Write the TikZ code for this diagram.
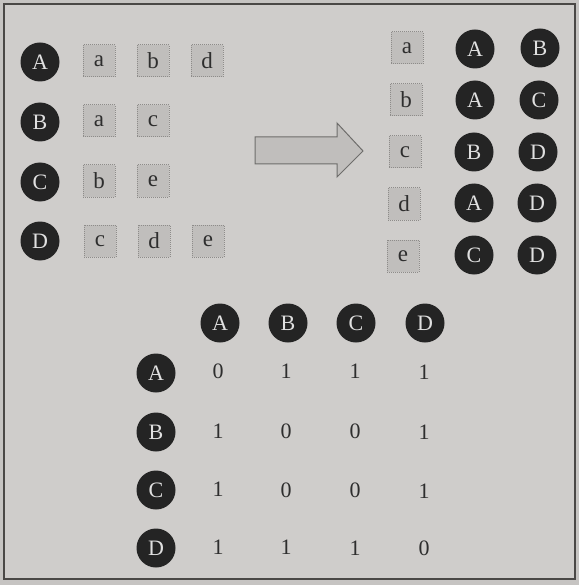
\documentclass[tikz,border=0pt]{standalone}
\usepackage{fontspec}
\setmainfont{Liberation Serif}
\definecolor{bgout}{HTML}{C6C4C2}
\definecolor{bgin}{HTML}{CFCDCB}
\definecolor{boxfill}{HTML}{C0BEBC}
\definecolor{boxline}{HTML}{8E8C8A}
\definecolor{dark}{HTML}{242424}
\definecolor{frameline}{HTML}{4A4846}
\definecolor{txt}{HTML}{2E2E2E}
\tikzset{
  vert/.style={circle, fill=dark, minimum size=39pt, inner sep=0pt, text=white!88!black, font=\fontsize{22}{22}\selectfont},
  itembox/.style={rectangle, draw=boxline, densely dotted, line width=1pt, fill=boxfill, minimum size=32pt, inner sep=0pt, text=txt, font=\fontsize{23}{23}\selectfont},
  num/.style={inner sep=0pt, text=txt, font=\fontsize{22}{22}\selectfont},
}
\begin{document}
\begin{tikzpicture}[x=1pt,y=-1pt]
\useasboundingbox (0,0) rectangle (579,585);
\fill[bgout] (0,0) rectangle (579,585);
\draw[frameline, line width=1.3pt, fill=bgin] (4,4) rectangle (575,579);
% left lists
\node[vert] (LA) at (40,62) {A};
\node[vert] (LB) at (40,122) {B};
\node[vert] (LC) at (40,182) {C};
\node[vert] (LD) at (40,241) {D};
\node[itembox] (LAa) at (99,61) {a};
\node[itembox] (LAb) at (153,61) {b};
\node[itembox] (LAd) at (207,61) {d};
\node[itembox] (LBa) at (99,121) {a};
\node[itembox] (LBc) at (153,121) {c};
\node[itembox] (LCb) at (99,181) {b};
\node[itembox] (LCe) at (153,181) {e};
\node[itembox] (LDc) at (100,241) {c};
\node[itembox] (LDd) at (154,241) {d};
\node[itembox] (LDe) at (208,241) {e};
% arrow
\draw[line width=1pt, draw=frameline!80, fill=boxfill] (255,137) -- (337,137) -- (337,123) -- (363,151) -- (337,177) -- (337,164) -- (255,164) -- cycle;
% right lists
\node[itembox] (Ra) at (407,48) {a};
\node[itembox] (Rb) at (406,100) {b};
\node[itembox] (Rc) at (405,152) {c};
\node[itembox] (Rd) at (404,204) {d};
\node[itembox] (Re) at (403,256) {e};
\node[vert] (Ra1) at (475,49) {A};
\node[vert] (Ra2) at (540,48) {B};
\node[vert] (Rb1) at (475,100) {A};
\node[vert] (Rb2) at (539,100) {C};
\node[vert] (Rc1) at (474,152) {B};
\node[vert] (Rc2) at (538,152) {D};
\node[vert] (Rd1) at (474,203) {A};
\node[vert] (Rd2) at (537,203) {D};
\node[vert] (Re1) at (474,255) {C};
\node[vert] (Re2) at (537,255) {D};
% matrix
\node[vert] (HA) at (220,323) {A};
\node[vert] (HB) at (288,323) {B};
\node[vert] (HC) at (356,323) {C};
\node[vert] (HD) at (425,323) {D};
\node[vert] (VA) at (156,373) {A};
\node[vert] (VB) at (156,432) {B};
\node[vert] (VC) at (156,490) {C};
\node[vert] (VD) at (156,548) {D};
\node[num] (m11) at (218,371) {0};
\node[num] (m12) at (286,371) {1};
\node[num] (m13) at (355,371) {1};
\node[num] (m14) at (424,372) {1};
\node[num] (m21) at (218,431) {1};
\node[num] (m22) at (286,431) {0};
\node[num] (m23) at (355,431) {0};
\node[num] (m24) at (424,432) {1};
\node[num] (m31) at (218,489) {1};
\node[num] (m32) at (286,490) {0};
\node[num] (m33) at (355,490) {0};
\node[num] (m34) at (424,491) {1};
\node[num] (m41) at (218,547) {1};
\node[num] (m42) at (286,547) {1};
\node[num] (m43) at (355,548) {1};
\node[num] (m44) at (424,548) {0};
\end{tikzpicture}
\end{document}
